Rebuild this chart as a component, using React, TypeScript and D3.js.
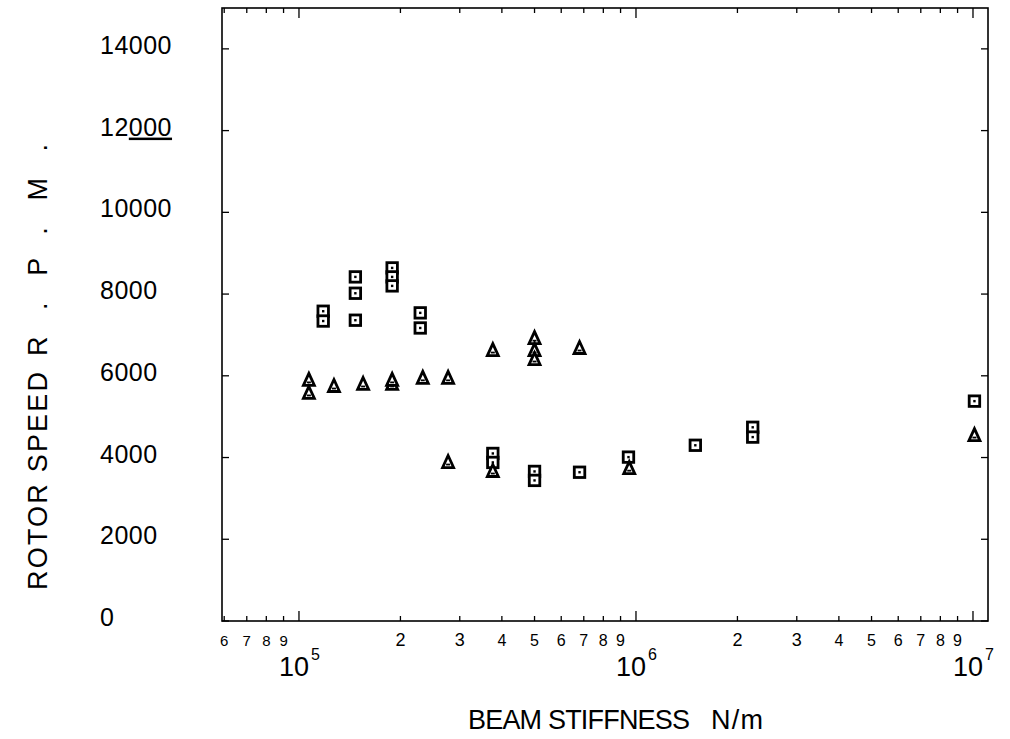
import React from "react";
import * as d3 from "d3";

// ---- data ----
const squareStiffness = [1.18e5, 1.18e5, 1.47e5, 1.47e5, 1.47e5, 1.89e5, 1.89e5, 1.89e5, 2.29e5, 2.29e5, 3.76e5, 3.76e5, 5.0e5, 5.0e5, 6.8e5, 9.5e5, 1.5e6, 2.22e6, 2.22e6, 1.01e7];
const squareSpeed = [7580, 7340, 8420, 8020, 7360, 8640, 8420, 8200, 7540, 7170, 4100, 3880, 3660, 3440, 3640, 4010, 4300, 4740, 4500, 5380];

const triangleStiffness = [1.07e5, 1.07e5, 1.27e5, 1.55e5, 1.89e5, 1.89e5, 2.33e5, 2.77e5, 2.77e5, 3.76e5, 3.76e5, 5.0e5, 5.0e5, 5.0e5, 6.8e5, 9.55e5, 1.01e7];
const triangleSpeed = [5900, 5580, 5750, 5800, 5800, 5900, 5950, 5950, 3890, 6630, 3670, 6920, 6630, 6410, 6680, 3740, 4550];

const yTickValues = [0, 2000, 4000, 6000, 8000, 10000, 12000, 14000];
const yTickLabels = ["0", "2000", "4000", "6000", "8000", "10000", "12000", "14000"];

const minorLabelValues = [6e4, 7e4, 8e4, 9e4, 2e5, 3e5, 4e5, 5e5, 6e5, 7e5, 8e5, 9e5, 2e6, 3e6, 4e6, 5e6, 6e6, 7e6, 8e6, 9e6];
const minorLabelTexts = ["6", "7", "8", "9", "2", "3", "4", "5", "6", "7", "8", "9", "2", "3", "4", "5", "6", "7", "8", "9"];
const majorLabelValues = [1e5, 1e6, 1e7];
const majorLabelExponents = ["5", "6", "7"];

const xDomain: [number, number] = [5.91e4, 1.108e7];
const yDomain: [number, number] = [0, 15000];

const yTitleA = "ROTOR SPEED";
const yTitleB = "R.P.M.";
const xTitleA = "BEAM STIFFNESS";
const xTitleB = "N/m";

// ---- layout ----
const W = 1010;
const H = 739;
const left = 222;
const right = 988;
const top = 8;
const bottom = 621;

const FONT = "'Liberation Sans', Arial, sans-serif";

export default function App() {
  const x = d3.scaleLog().domain(xDomain).range([left, right]);
  const y = d3.scaleLinear().domain(yDomain).range([bottom, top]);

  const xTicks: { v: number; major: boolean }[] = [];
  for (let d = 4; d <= 7; d++) {
    for (let k = 1; k <= 9; k++) {
      const v = k * Math.pow(10, d);
      if (v >= xDomain[0] * 0.999 && v <= xDomain[1]) xTicks.push({ v, major: k === 1 });
    }
  }

  const sq = 10.5;
  const triW = 11;
  const triH = 11;

  return (
    <svg
      width={W}
      height={H}
      viewBox={`0 0 ${W} ${H}`}
      style={{ position: "absolute", left: 0, top: 0, background: "#fff" }}
    >
      <rect x={0} y={0} width={W} height={H} fill="#fff" />
      <rect x={left} y={top} width={right - left} height={bottom - top} fill="none" stroke="#000" strokeWidth={1.6} />

      {xTicks.map((t, i) => {
        const px = x(t.v);
        const len = t.major ? 10 : 5;
        return (
          <g key={"xt" + i} stroke="#000" strokeWidth={1.3}>
            <line x1={px} x2={px} y1={bottom} y2={bottom - len} />
            <line x1={px} x2={px} y1={top} y2={top + len} />
          </g>
        );
      })}

      {yTickValues.map((v, i) => {
        const py = y(v);
        return (
          <g key={"yt" + i} stroke="#000" strokeWidth={1.3}>
            <line x1={left} x2={left + 7} y1={py} y2={py} />
            <line x1={right} x2={right - 7} y1={py} y2={py} />
          </g>
        );
      })}

      {yTickLabels.map((lab, i) => (
        <text
          key={"yl" + i}
          x={100}
          y={y(yTickValues[i]) + 5}
          fontFamily={FONT}
          fontSize={25}
          letterSpacing={0.5}
          fill="#000"
          textAnchor="start"
        >
          {lab === "12000" ? (
            <>
              <tspan>12</tspan>
              <tspan textDecoration="underline">000</tspan>
            </>
          ) : (
            lab
          )}
        </text>
      ))}

      {minorLabelValues.map((v, i) => (
        <text
          key={"xm" + i}
          x={x(v)}
          y={646}
          fontFamily={FONT}
          fontSize={v < 1e5 ? 15 : v < 4e5 || (v >= 1e6 && v < 4e6) ? 18 : 16}
          fill="#000"
          textAnchor="middle"
        >
          {minorLabelTexts[i]}
        </text>
      ))}

      {majorLabelValues.map((v, i) => (
        <g key={"xM" + i}>
          <text x={x(v) - 5} y={676} fontFamily={FONT} fontSize={27} fill="#000" textAnchor="middle">
            10
          </text>
          <text x={x(v) + 12} y={660} fontFamily={FONT} fontSize={16} fill="#000" textAnchor="start">
            {majorLabelExponents[i]}
          </text>
        </g>
      ))}

      <g transform="translate(47,0) rotate(-90)">
        <text x={-590} y={0} fontFamily={FONT} fontSize={27} fill="#000" textLength={218} lengthAdjust="spacing">
          {yTitleA}
        </text>
        <text x={-356} y={0} fontFamily={FONT} fontSize={27} fill="#000" textLength={212} lengthAdjust="spacing">
          {yTitleB}
        </text>
      </g>
      <text x={468} y={729} fontFamily={FONT} fontSize={27} fill="#000" textLength={222} lengthAdjust="spacing">
        {xTitleA}
      </text>
      <text x={711} y={729} fontFamily={FONT} fontSize={27} fill="#000" textLength={52} lengthAdjust="spacing">
        {xTitleB}
      </text>

      {squareStiffness.map((s, i) => {
        const cx = x(s);
        const cy = y(squareSpeed[i]);
        return (
          <g key={"sq" + i}>
            <rect x={cx - sq / 2} y={cy - sq / 2} width={sq} height={sq} fill="#fff" stroke="#000" strokeWidth={2.8} />
            <rect x={cx - 1.2} y={cy - 1.2} width={2.4} height={2.4} fill="#000" />
          </g>
        );
      })}

      {triangleStiffness.map((s, i) => {
        const cx = x(s);
        const cy = y(triangleSpeed[i]);
        const p = `M${cx},${cy - triH / 2 - 1} L${cx + triW / 2},${cy + triH / 2} L${cx - triW / 2},${cy + triH / 2} Z`;
        return (
          <g key={"tr" + i}>
            <path d={p} fill="#fff" stroke="#000" strokeWidth={2.8} strokeLinejoin="miter" />
            <line x1={cx - 2} x2={cx + 2} y1={cy + 2.5} y2={cy + 2.5} stroke="#000" strokeWidth={1.8} />
          </g>
        );
      })}
    </svg>
  );
}
